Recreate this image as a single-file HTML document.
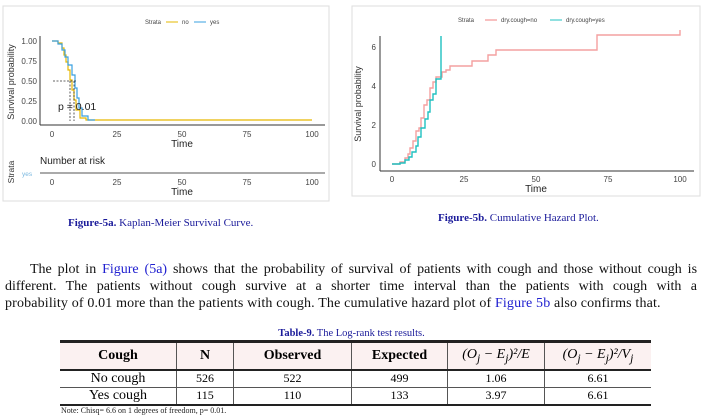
<!DOCTYPE html>
<html><head><meta charset="utf-8"><style>
body{margin:0;width:703px;height:419px;background:#fff;position:relative;overflow:hidden;font-family:"Liberation Serif",serif;}
.abs{position:absolute}
.cap{color:#1a1a9a;font-size:11px;white-space:nowrap}
.cap b{font-weight:bold}
.ln{position:absolute;left:5px;width:692px;font-size:14px;line-height:17px;text-align:justify;text-align-last:justify;color:#111;white-space:nowrap}
.ln a{color:#2020d0;text-decoration:none}
table{border-collapse:collapse;font-size:13px;}
td{text-align:center;padding:0;border-left:1px solid #555;}
td:first-child{border-left:none}
</style></head><body>

<svg class="abs" style="left:0;top:0" width="703" height="235" font-family="Liberation Sans, sans-serif">
 <rect x="3" y="6" width="326" height="195" fill="#fff" stroke="#ddd"/>
 <text x="145" y="24" font-size="6" fill="#444">Strata</text>
 <line x1="166" y1="22" x2="178" y2="22" stroke="#e6b800"/><text x="182" y="24" font-size="6" fill="#444">no</text>
 <line x1="194" y1="22" x2="206" y2="22" stroke="#3aa0e0"/><text x="210" y="24" font-size="6" fill="#444">yes</text>
 <line x1="40" y1="36" x2="40" y2="125" stroke="#333"/>
 <line x1="40" y1="125" x2="325" y2="125" stroke="#333"/>
 <g font-size="8" fill="#444" text-anchor="end">
  <text x="37" y="44">1.00</text><text x="37" y="64">0.75</text><text x="37" y="84">0.50</text><text x="37" y="104">0.25</text><text x="37" y="124">0.00</text>
 </g>
 <g font-size="8" fill="#444" text-anchor="middle">
  <text x="52" y="137">0</text><text x="117" y="137">25</text><text x="182" y="137">50</text><text x="247" y="137">75</text><text x="312" y="137">100</text>
 </g>
 <text x="182" y="147" font-size="10" text-anchor="middle" fill="#222">Time</text>
 <text transform="translate(14,82) rotate(-90)" font-size="9" text-anchor="middle" fill="#333">Survival probability</text>
 <path d="M52,41 H58 V43 H62 V48 H64 V55 H66 V62 H68 V70 H70 V80 H72 V90 H74 V100 H76 V110 H80 V118 H86 V120 H312" fill="none" stroke="#e6b800" stroke-width="1.2"/>
 <path d="M52,41 H58 V44 H62 V50 H65 V57 H68 V65 H72 V75 H75 V88 H77 V98 H79 V108 H82 V116 H88 V120 H95" fill="none" stroke="#3aa0e0" stroke-width="1.2"/>
 <path d="M53,81 H76 M70,81 V121 M74,81 V121" stroke="#333" stroke-dasharray="2,1.5" stroke-width="0.8"/>
 <text x="58" y="110" font-size="10.5" fill="#222">p = 0.01</text>
 <text x="40" y="164" font-size="10" fill="#222">Number at risk</text>
 <text transform="translate(14,172) rotate(-90)" font-size="8.5" text-anchor="middle" fill="#333">Strata</text>
 <text x="22" y="176" font-size="6.5" fill="#7ab8e0">yes</text>
 <line x1="40" y1="173" x2="325" y2="173" stroke="#555"/>
 <g font-size="8" fill="#444" text-anchor="middle">
  <text x="52" y="185">0</text><text x="117" y="185">25</text><text x="182" y="185">50</text><text x="247" y="185">75</text><text x="312" y="185">100</text>
 </g>
 <text x="182" y="195" font-size="10" text-anchor="middle" fill="#222">Time</text>

 <rect x="352" y="6" width="348" height="190" fill="#fff" stroke="#ddd"/>
 <text x="458" y="22" font-size="6" fill="#444">Strata</text>
 <line x1="485" y1="20" x2="497" y2="20" stroke="#f08080"/><text x="501" y="22" font-size="6" fill="#444">dry.cough=no</text>
 <line x1="550" y1="20" x2="562" y2="20" stroke="#20c0c0"/><text x="566" y="22" font-size="6" fill="#444">dry.cough=yes</text>
 <line x1="380" y1="36" x2="380" y2="171" stroke="#333"/>
 <line x1="380" y1="171" x2="694" y2="171" stroke="#333"/>
 <g font-size="8" fill="#444" text-anchor="end">
  <text x="376" y="50">6</text><text x="376" y="89">4</text><text x="376" y="128">2</text><text x="376" y="167">0</text>
 </g>
 <g font-size="8" fill="#444" text-anchor="middle">
  <text x="392" y="182">0</text><text x="464" y="182">25</text><text x="536" y="182">50</text><text x="608" y="182">75</text><text x="680" y="182">100</text>
 </g>
 <text x="536" y="192" font-size="10" text-anchor="middle" fill="#222">Time</text>
 <text transform="translate(361,104) rotate(-90)" font-size="9" text-anchor="middle" fill="#333">Survival probability</text>
 <path d="M392,164 H400 V162 H405 V158 H408 V154 H410 V148 H413 V141 H416 V131 H419 V128 H421 V118 H424 V105 H427 V100 H430 V88 H433 V82 H436 V77 H442 V72 H446 V70 H450 V66 H472 V61 H488 V55 H496 V50 H597 V35 H680 V30" fill="none" stroke="#f4a0a0" stroke-width="1.4"/>
 <path d="M392,164 H400 V163 H405 V160 H409 V157 H412 V152 H416 V146 H418 V137 H421 V128 H425 V119 H428 V112 H430 V100 H433 V94 H436 V79 H441 V76 H441 V36" fill="none" stroke="#20c0c0" stroke-width="1.4"/>
</svg>

<div class="abs cap" style="left:68px;top:217px"><b>Figure-5a.</b> Kaplan-Meier Survival Curve.</div>
<div class="abs cap" style="left:438px;top:212px"><b>Figure-5b.</b> Cumulative Hazard Plot.</div>

<div class="ln" style="left:30px;width:667px;top:261px">The plot in <a>Figure (5a)</a> shows that the probability of survival of patients with cough and those without cough is</div>
<div class="ln" style="top:278px">different. The patients without cough survive at a shorter time interval than the patients with cough with a</div>
<div class="ln" style="top:295px;text-align-last:left;letter-spacing:0.15px">probability of 0.01 more than the patients with cough. The cumulative hazard plot of <a>Figure 5b</a> also confirms that.</div>

<div class="abs cap" style="left:0;width:703px;text-align:center;top:328px;font-size:10.5px"><b>Table-9.</b> The Log-rank test results.</div>
<table class="abs" style="left:60px;top:340px;width:591px">
 <tr style="height:28px;background:#fbf1f1;border-top:3px solid #222;border-bottom:2px solid #222;font-weight:bold;font-size:14px">
  <td style="width:116px">Cough</td><td style="width:56px">N</td><td style="width:117px">Observed</td><td style="width:95px">Expected</td><td style="width:96px;font-weight:normal;font-style:italic">(O<sub>j</sub> − E<sub>j</sub>)²/E</td><td style="font-weight:normal;font-style:italic">(O<sub>j</sub> − E<sub>j</sub>)²/V<sub>j</sub></td>
 </tr>
 <tr style="height:17px;border-bottom:1px solid #555;font-size:14px"><td>No cough</td><td style="font-size:12px">526</td><td style="font-size:12px">522</td><td style="font-size:12px">499</td><td style="font-size:12px">1.06</td><td style="font-size:12px">6.61</td></tr>
 <tr style="height:17px;border-bottom:2px solid #222;font-size:14px"><td>Yes cough</td><td style="font-size:12px">115</td><td style="font-size:12px">110</td><td style="font-size:12px">133</td><td style="font-size:12px">3.97</td><td style="font-size:12px">6.61</td></tr>
</table>
<div class="abs" style="left:61px;top:406px;font-size:8px;color:#222">Note: Chisq= 6.6  on 1 degrees of freedom, p= 0.01.</div>
</body></html>
